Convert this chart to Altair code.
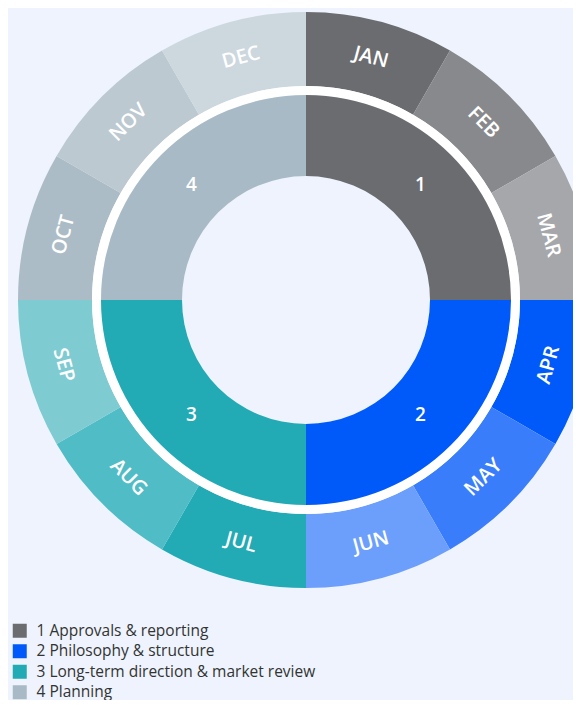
import altair as alt
import pandas as pd

months = ["JAN", "FEB", "MAR", "APR", "MAY", "JUN", "JUL", "AUG", "SEP", "OCT", "NOV", "DEC"]
month_colors = ["#6b6c70", "#88898c", "#a6a7aa",
                "#005af9", "#3a7dfb", "#6c9efc",
                "#22aab5", "#50bcc5", "#7ecbd2",
                "#acbcc6", "#bcc9d1", "#ccd7de"]
quarters = ["1", "2", "3", "4"]
quarter_names = ["1 Approvals & reporting", "2 Philosophy & structure",
                 "3 Long-term direction & market review", "4 Planning"]
quarter_colors = ["#6b6c70", "#005af9", "#22aab5", "#a8bac6"]
months_per_quarter = [3, 3, 3, 3]

def upright(i, n):
    mid = (i + 0.5) * 360 / n
    a = mid
    if 90 < a < 270:
        a -= 180
    return a % 360

mdf = pd.DataFrame({
    "month": months,
    "color": month_colors,
    "idx": list(range(12)),
    "value": [1] * 12,
})
mdf["rot"] = [upright(i, 12) for i in range(12)]

qdf = pd.DataFrame({
    "q": quarters,
    "name": quarter_names,
    "idx": list(range(4)),
    "value": months_per_quarter,
})

CX, CY = 298, 292

outer = alt.Chart(mdf).mark_arc(radius=288, radius2=214).encode(
    theta=alt.Theta("value:Q", stack=True),
    order=alt.Order("idx:Q"),
    color=alt.Color("color:N", scale=None),
    x=alt.value(CX), y=alt.value(CY),
)
outer_text = alt.Chart(mdf).mark_text(
    radius=251, font="Open Sans", fontSize=20, fontWeight=600, color="white",
    align="center", baseline="middle"
).encode(
    theta=alt.Theta("value:Q", stack=True),
    order=alt.Order("idx:Q"),
    text="month:N",
    angle=alt.Angle("rot:Q", scale=None),
    x=alt.value(CX), y=alt.value(CY),
)
gap = alt.Chart(qdf).mark_arc(radius=214, radius2=205, color="white").encode(
    theta=alt.Theta("value:Q", stack=True),
    order=alt.Order("idx:Q"),
    x=alt.value(CX), y=alt.value(CY),
)
inner = alt.Chart(qdf).mark_arc(radius=205, radius2=124).encode(
    theta=alt.Theta("value:Q", stack=True),
    order=alt.Order("idx:Q"),
    color=alt.Color("name:N", scale=alt.Scale(domain=quarter_names, range=quarter_colors),
                    legend=alt.Legend(orient="none", legendX=4, legendY=615, title=None,
                                      direction="vertical", symbolType="square", symbolSize=196,
                                      symbolStrokeWidth=0, symbolOpacity=1, labelFontSize=15.5,
                                      labelFont="Open Sans", labelColor="#333333", rowPadding=3.5,
                                      labelLimit=0, labelOffset=9, padding=0)),
    x=alt.value(CX), y=alt.value(CY),
)
inner_text = alt.Chart(qdf).mark_text(
    radius=162, font="Open Sans", fontSize=19, fontWeight=600, color="white",
    align="center", baseline="middle"
).encode(
    theta=alt.Theta("value:Q", stack=True),
    order=alt.Order("idx:Q"),
    text="q:N",
    x=alt.value(CX), y=alt.value(CY),
)

chart = alt.layer(outer, gap, inner, outer_text, inner_text).resolve_scale(
    color="independent"
).properties(
    width=565, height=692, autosize=alt.AutoSizeParams(type="none"), padding=0,
    background="#eef3fd"
).configure_view(stroke=None)

chart.save("out.html", embed_options={"renderer": "svg", "actions": False})
